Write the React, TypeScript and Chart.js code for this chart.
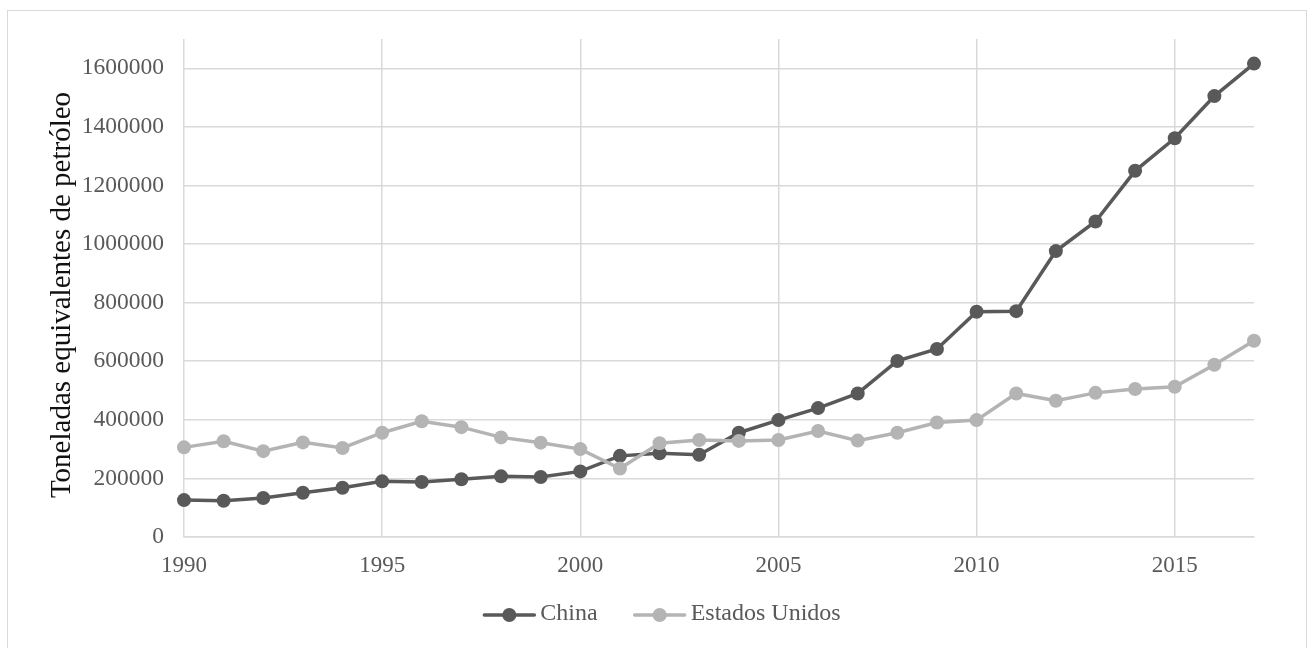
import { useEffect, useRef } from "react";
import { Chart, registerables } from "chart.js";

Chart.register(...registerables);

// Consumo energético (toneladas equivalentes de petróleo), 1990–2017
const years = [
  1990, 1991, 1992, 1993, 1994, 1995, 1996, 1997, 1998, 1999,
  2000, 2001, 2002, 2003, 2004, 2005, 2006, 2007, 2008, 2009,
  2010, 2011, 2012, 2013, 2014, 2015, 2016, 2017,
];

const chinaValues = [
  126000, 124000, 133000, 151000, 168000, 190000, 188000, 197000, 207000, 205000,
  224000, 277000, 286000, 281000, 356000, 399000, 440000, 490000, 601000, 642000,
  769000, 771000, 976000, 1077000, 1250000, 1361000, 1505000, 1616000,
];

const usaValues = [
  306000, 327000, 293000, 323000, 304000, 356000, 395000, 375000, 340000, 322000,
  300000, 234000, 320000, 331000, 328000, 331000, 362000, 329000, 356000, 391000,
  399000, 490000, 465000, 492000, 505000, 513000, 588000, 670000,
];

const xTickValues = [1990, 1995, 2000, 2005, 2010, 2015];
const yTickValues = [0, 200000, 400000, 600000, 800000, 1000000, 1200000, 1400000, 1600000];

const seriesNames = ["China", "Estados Unidos"];
const yAxisTitle = "Toneladas equivalentes de petróleo";

const FONT = '"Liberation Serif", "Times New Roman", serif';
const GRID = "#d9d9d9";
const TEXT = "#595959";
const CHINA_COLOR = "#595959";
const USA_COLOR = "#b4b4b4";
const COLORS = [CHINA_COLOR, USA_COLOR];

// Draws the rotated value-axis title and a line+marker legend under the plot.
const decorations = {
  id: "decorations",
  afterDraw(chart: Chart) {
    const ctx = chart.ctx;
    ctx.save();

    // y-axis title
    ctx.save();
    ctx.translate(54, 284);
    ctx.rotate(-Math.PI / 2);
    ctx.font = `29px ${FONT}`;
    ctx.fillStyle = "#111111";
    ctx.textAlign = "center";
    ctx.textBaseline = "middle";
    ctx.fillText(yAxisTitle, 0, 0);
    ctx.restore();

    // legend
    const lineLen = 54;
    const textGap = 4;
    const itemGap = 35;
    const lineY = 604;
    ctx.font = `24px ${FONT}`;
    const widths = seriesNames.map((n) => ctx.measureText(n).width);
    const total =
      widths.reduce((a, w) => a + lineLen + textGap + w, 0) +
      itemGap * (seriesNames.length - 1);
    let x = 653.5 - total / 2;
    seriesNames.forEach((name, i) => {
      const color = COLORS[i];
      ctx.strokeStyle = color;
      ctx.lineWidth = 3.5;
      ctx.lineCap = "round";
      ctx.beginPath();
      ctx.moveTo(x + 2, lineY);
      ctx.lineTo(x + lineLen - 2, lineY);
      ctx.stroke();
      ctx.fillStyle = color;
      ctx.beginPath();
      ctx.arc(x + lineLen / 2, lineY, 7, 0, Math.PI * 2);
      ctx.fill();
      ctx.fillStyle = TEXT;
      ctx.textAlign = "left";
      ctx.textBaseline = "middle";
      ctx.fillText(name, x + lineLen + textGap, lineY - 1);
      x += lineLen + textGap + widths[i] + itemGap;
    });

    ctx.restore();
  },
};

export default function App() {
  const canvasRef = useRef<HTMLCanvasElement | null>(null);

  useEffect(() => {
    const canvas = canvasRef.current;
    if (!canvas) return;

    const chart = new Chart(canvas, {
      type: "line",
      data: {
        datasets: [
          {
            label: seriesNames[0],
            data: years.map((y, i) => ({ x: y, y: chinaValues[i] })),
            borderColor: CHINA_COLOR,
            backgroundColor: CHINA_COLOR,
            pointBackgroundColor: CHINA_COLOR,
            borderWidth: 3.5,
            pointRadius: 7,
            pointBorderWidth: 0,
            tension: 0,
            clip: false,
            order: 1,
          },
          {
            label: seriesNames[1],
            data: years.map((y, i) => ({ x: y, y: usaValues[i] })),
            borderColor: USA_COLOR,
            backgroundColor: USA_COLOR,
            pointBackgroundColor: USA_COLOR,
            borderWidth: 3.5,
            pointRadius: 7,
            pointBorderWidth: 0,
            tension: 0,
            clip: false,
            order: 0,
          },
        ],
      },
      options: {
        responsive: false,
        animation: false,
        layout: { padding: { left: 33, top: 28, right: 52, bottom: 52 } },
        plugins: {
          legend: { display: false },
          tooltip: { enabled: false },
        },
        scales: {
          x: {
            type: "linear",
            min: 1990,
            max: 2017,
            afterBuildTicks: (scale: any) => {
              scale.ticks = xTickValues.map((value) => ({ value }));
            },
            afterFit: (scale: any) => {
              scale.height = 60;
              scale.paddingLeft = 0;
              scale.paddingRight = 0;
            },
            grid: { color: GRID, lineWidth: 1.5, drawTicks: false },
            border: { color: GRID, width: 1.5 },
            ticks: {
              autoSkip: false,
              maxRotation: 0,
              padding: 15,
              color: TEXT,
              font: { family: FONT, size: 23 },
              callback: (v: any) => String(v),
            },
          },
          y: {
            type: "linear",
            min: 0,
            max: 1700000,
            afterBuildTicks: (scale: any) => {
              scale.ticks = yTickValues.map((value) => ({ value }));
            },
            afterFit: (scale: any) => {
              scale.width = 143;
              scale.paddingTop = 0;
              scale.paddingBottom = 0;
            },
            grid: { color: GRID, lineWidth: 1.5, drawTicks: false },
            border: { display: false },
            ticks: {
              autoSkip: false,
              padding: 20,
              color: TEXT,
              font: { family: FONT, size: 23.5 },
              callback: (v: any) => String(v),
            },
          },
        },
      },
      plugins: [decorations],
    });

    return () => chart.destroy();
  }, []);

  return (
    <div
      style={{
        position: "fixed",
        left: 7,
        top: 10,
        width: 1300,
        height: 640,
        boxSizing: "border-box",
        border: `1px solid ${GRID}`,
        background: "#ffffff",
      }}
    >
      <canvas ref={canvasRef} width={1298} height={638} style={{ display: "block" }} />
    </div>
  );
}
